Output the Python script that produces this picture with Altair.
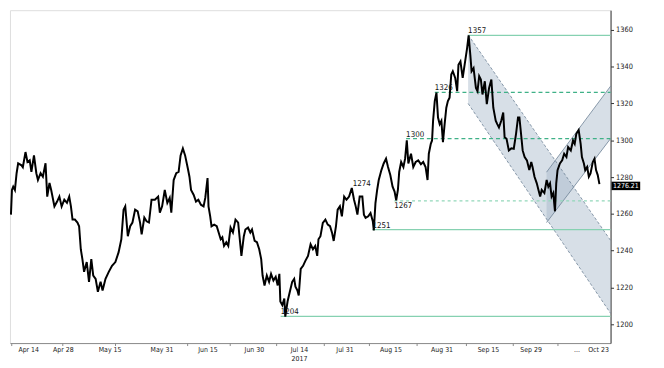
import json
import altair as alt
import pandas as pd

# ---- price series (trading-day index from Apr 14, price) ----
day = [-3.19, -2.95, -2.65, -2.25, -1.85, -1.48, -0.68, -0.37, 0.26, 0.73,
       1.26, 1.66, 2.27, 2.83, 3.21, 3.84, 4.38, 5.01, 5.41, 5.95,
       6.35, 7.12, 7.75, 8.29, 8.83, 9.46, 10.09, 10.63, 11.03, 11.41,
       11.97, 12.58, 12.97, 13.37, 13.75, 14.15, 14.78, 15.32, 15.86, 16.32,
       16.89, 17.42, 18.06, 18.53, 19.23, 20.00, 20.77, 21.57, 22.34, 22.98,
       23.51, 23.91, 24.52, 25.08, 25.62, 26.25, 26.86, 27.42, 27.80, 28.43,
       28.97, 29.53, 30.14, 30.94, 31.71, 32.11, 32.65, 33.28, 33.89, 34.45,
       34.83, 35.39, 36.00, 36.56, 37.03, 37.57, 38.10, 38.74, 39.13, 39.51,
       40.14, 40.68, 41.24, 41.85, 42.48, 42.88, 43.42, 43.65, 44.05, 44.36,
       44.99, 45.60, 46.54, 46.93, 47.33, 47.87, 48.34, 48.88, 49.44, 50.05,
       50.68, 51.22, 51.45, 52.02, 52.39, 53.02, 53.56, 53.96, 54.59, 55.13,
       55.67, 56.14, 56.47, 56.93, 57.47, 58.01, 58.48, 59.04, 59.58, 60.05,
       60.45, 60.68, 61.15, 61.62, 61.85, 62.39, 62.93, 63.49, 63.96, 64.26,
       64.73, 65.04, 65.51, 66.07, 66.61, 67.24, 67.85, 68.41, 68.95, 69.42,
       69.72, 70.19, 70.75, 71.36, 71.92, 72.46, 72.93, 73.33, 73.87, 74.27,
       74.80, 75.27, 75.81, 76.37, 76.98, 77.62, 78.15, 78.55, 78.95, 79.49,
       80.12, 80.49, 80.89, 81.52, 82.06, 82.60, 82.84, 83.23, 83.63, 84.01,
       84.64, 85.18, 85.74, 86.21, 86.75, 87.29, 87.76, 88.15, 88.55, 88.86,
       89.32, 89.86, 90.26, 90.66, 91.03, 91.66, 92.20, 92.77, 93.38, 94.01,
       94.55, 95.11, 95.58, 95.88, 96.35, 96.65, 96.89, 97.29, 97.69, 98.06,
       98.46, 98.86, 99.23, 99.63, 100.03, 100.40, 100.80, 101.20, 101.57, 102.14,
       102.60, 102.91, 103.38, 103.91, 104.48, 104.95, 105.32, 105.72, 106.02, 106.49,
       107.05, 107.43, 107.82, 108.22, 108.60, 109.16, 109.63, 110.17, 110.71, 111.17,
       111.74, 112.11, 112.51, 113.05, 113.52, 113.85, 114.31, 114.85, 115.44, 116.02,
       116.56, 117.03, 117.36, 117.83, 118.13, 118.60, 119.14, 119.70, 120.17, 120.47,
       120.94, 121.48, 121.88, 122.28, 122.65, 123.28, 123.82, 124.22, 124.62, 124.99,
       125.39, 125.79, 126.09, 126.40, 126.96, 127.50, 127.97, 128.51, 128.91, 129.54,
       130.07, 130.47, 130.85, 131.41, 131.88, 132.18, 132.65, 132.96, 133.42, 133.82,
       134.22, 134.76, 135.16, 135.53, 135.93, 136.33]

price = [1259.6, 1273.0, 1274.8, 1273.0, 1282.1, 1287.5, 1286.4, 1285.4, 1293.6, 1288.2,
         1289.1, 1282.8, 1291.8, 1282.1, 1278.4, 1282.1, 1280.2, 1287.5, 1269.4, 1276.8,
         1273.0, 1264.1, 1266.7, 1269.4, 1264.1, 1267.7, 1266.0, 1269.4, 1264.1, 1256.9,
         1256.9, 1255.3, 1253.3, 1240.8, 1235.4, 1228.5, 1233.8, 1223.1, 1235.4, 1226.5,
         1224.7, 1217.7, 1223.1, 1218.4, 1224.7, 1228.5, 1231.8, 1233.8, 1239.2, 1246.2,
         1262.3, 1264.1, 1247.9, 1253.3, 1255.3, 1262.3, 1261.4, 1255.3, 1248.9, 1258.0,
         1256.0, 1255.3, 1267.7, 1267.7, 1269.4, 1260.7, 1264.1, 1273.0, 1266.0, 1268.7,
         1260.7, 1278.4, 1282.1, 1282.8, 1291.8, 1295.6, 1291.8, 1284.8, 1280.2, 1273.0,
         1270.3, 1266.7, 1267.7, 1265.0, 1264.1, 1268.7, 1279.5, 1264.1, 1258.7, 1253.3,
         1254.2, 1253.3, 1246.2, 1247.3, 1242.6, 1244.6, 1242.6, 1252.6, 1249.9, 1256.9,
         1255.3, 1242.6, 1237.2, 1247.9, 1251.5, 1252.6, 1249.9, 1251.5, 1245.3, 1244.6,
         1240.8, 1235.4, 1226.5, 1221.1, 1226.5, 1223.1, 1227.4, 1223.8, 1225.8, 1221.1,
         1227.4, 1212.4, 1210.4, 1214.0, 1204.2, 1212.4, 1217.7, 1223.1, 1224.7, 1220.4,
         1218.4, 1215.7, 1230.1, 1231.8, 1234.5, 1237.2, 1243.5, 1240.8, 1242.6, 1237.2,
         1246.2, 1247.9, 1255.1, 1256.9, 1254.2, 1253.3, 1249.8, 1245.3, 1253.3, 1262.3,
         1264.1, 1258.7, 1269.4, 1267.7, 1269.4, 1274.1, 1267.7, 1264.1, 1259.6, 1269.4,
         1269.4, 1259.6, 1257.8, 1258.7, 1260.5, 1256.0, 1251.0, 1265.9, 1273.0, 1278.4,
         1283.8, 1287.4, 1290.0, 1285.5, 1281.1, 1274.8, 1272.1, 1267.4, 1273.0, 1282.8,
         1288.2, 1285.5, 1290.0, 1300.0, 1287.4, 1292.7, 1285.5, 1288.2, 1289.1, 1287.0,
         1288.2, 1285.5, 1278.4, 1292.7, 1298.1, 1299.9, 1310.6, 1321.3, 1325.9, 1312.4,
         1308.8, 1310.6, 1299.0, 1308.8, 1317.7, 1321.3, 1323.1, 1335.7, 1337.5, 1333.9,
         1326.7, 1341.0, 1342.8, 1333.9, 1342.8, 1350.0, 1357.0, 1346.4, 1337.5, 1339.2,
         1328.5, 1326.7, 1334.8, 1333.0, 1324.9, 1332.1, 1319.6, 1328.5, 1333.0, 1317.7,
         1310.6, 1308.8, 1307.0, 1310.6, 1315.1, 1301.6, 1300.8, 1294.5, 1295.6, 1295.4,
         1303.5, 1312.4, 1312.4, 1301.6, 1294.5, 1290.9, 1289.1, 1283.8, 1288.2, 1285.5,
         1280.2, 1276.6, 1273.0, 1269.4, 1273.0, 1271.3, 1278.4, 1274.8, 1276.6, 1269.4,
         1271.3, 1261.4, 1276.6, 1283.8, 1287.4, 1289.1, 1292.7, 1290.9, 1296.3, 1294.5,
         1299.9, 1298.1, 1303.5, 1305.6, 1298.1, 1290.9, 1287.4, 1283.8, 1285.5, 1280.2,
         1282.0, 1288.2, 1290.0, 1283.8, 1281.1, 1276.21]

# ---- axis ticks ----
tick_days = [0.9, 9.1, 20.2, 32.5, 43.4, 54.4, 65.1, 75.9, 86.8, 98.9, 109.9, 120.0, 130.9, 136.0]
tick_labels = ["Apr 14", "Apr 28", "May 15", "May 31", "Jun 15", "Jun 30", ["Jul 14", "2017"],
               "Jul 31", "Aug 15", "Aug 31", "Sep 15", "Sep 29", "...", "Oct 23"]
minor_tick_days = [-3.0, 9.1, 21.6, 38.7, 48.8, 59.8, 71.1, 81.8, 93.1, 104.8, 115.9, 126.5]
y_ticks = [1200, 1220, 1240, 1260, 1280, 1300, 1320, 1340, 1360]

# ---- horizontal levels ----
level_price = [1357.0, 1326.0, 1300.9, 1267.1, 1251.5, 1204.3]
level_start = [105.2, 97.3, 90.5, 87.7, 82.5, 60.75]
level_style = ["solid", "dashed", "dashed", "dotted", "solid", "solid"]
level_text = ["1357", "1326", "1300", "1267", "1251", "1204"]
level_label_pos = ["above", "above", "above", "below", "above", "above"]

note_day = [77.85]
note_price = [1274.0]
note_text = ["1274"]

# ---- channels ----
desc_day = [105.2, 138.97]
desc_upper = [1357.3, 1245.6]
desc_lower = [1320.0, 1206.0]
asc_day = [123.8, 138.97]
asc_upper = [1282.7, 1329.4]
asc_lower = [1255.3, 1300.9]

last_price = 1276.21

X_MIN, X_MAX = -3.42, 138.97
Y_MIN, Y_MAX = 1189.8, 1370.7
W, H = 608, 337

xs = alt.Scale(domain=[X_MIN, X_MAX], nice=False, zero=False)
ys = alt.Scale(domain=[Y_MIN, Y_MAX], nice=False, zero=False)

FONT = "DejaVu Sans Condensed"

series = pd.DataFrame({"day": day, "price": price})
levels = pd.DataFrame({"start": level_start, "end": [X_MAX] * len(level_price),
                       "price": level_price, "style": level_style,
                       "text": level_text, "pos": level_label_pos})
notes = pd.DataFrame({"start": note_day, "price": note_price, "text": note_text, "pos": ["above"]})
labels_all = pd.concat([levels[["start", "price", "text", "pos"]], notes], ignore_index=True)
desc = pd.DataFrame({"day": desc_day, "upper": desc_upper, "lower": desc_lower})
asc = pd.DataFrame({"day": asc_day, "upper": asc_upper, "lower": asc_lower})
minor = pd.DataFrame({"day": minor_tick_days})
last = pd.DataFrame({"price": [last_price], "lo": [last_price - 3.3], "hi": [last_price + 1.3],
                     "text": [f"{last_price:.2f}"]})

label_expr = f"{json.dumps(tick_labels)}[indexof({json.dumps(tick_days)}, datum.value)]"

x_axis = alt.Axis(values=tick_days, labelExpr=label_expr, grid=False, ticks=False,
                  domainColor="#8a8a8a", labelFont=FONT, labelFontSize=7, labelColor="#222",
                  labelPadding=3, title=None, labelFlush=False)
y_axis = alt.Axis(orient="right", values=y_ticks, format="d", grid=False, tickSize=3,
                  tickColor="#333", domainColor="#333", labelFont=FONT, labelFontSize=7.5,
                  labelColor="#222", labelPadding=2, title=None)

base_x = alt.X("day:Q", scale=xs, axis=x_axis)

fill_col = "#9fb2c5"
edge_col = "#6d8296"

desc_area = alt.Chart(desc).mark_area(color=fill_col, opacity=0.42).encode(
    x=base_x, y=alt.Y("upper:Q", scale=ys, axis=y_axis), y2="lower:Q")
desc_up = alt.Chart(desc).mark_line(color=edge_col, strokeWidth=0.8, strokeDash=[3, 2]).encode(
    x="day:Q", y="upper:Q")
desc_lo = alt.Chart(desc).mark_line(color=edge_col, strokeWidth=0.8, strokeDash=[3, 2]).encode(
    x="day:Q", y="lower:Q")
asc_area = alt.Chart(asc).mark_area(color=fill_col, opacity=0.42).encode(
    x="day:Q", y="upper:Q", y2="lower:Q")
asc_up = alt.Chart(asc).mark_line(color=edge_col, strokeWidth=0.8).encode(x="day:Q", y="upper:Q")
asc_lo = alt.Chart(asc).mark_line(color=edge_col, strokeWidth=0.8).encode(x="day:Q", y="lower:Q")

level_rules = alt.Chart(levels).mark_rule(strokeWidth=1.2).encode(
    x="start:Q", x2="end:Q", y="price:Q",
    color=alt.Color("style:N", legend=None,
                    scale=alt.Scale(domain=["solid", "dashed", "dotted"],
                                    range=["#86d1b1", "#3fb187", "#93d8ba"])),
    strokeDash=alt.StrokeDash("style:N", legend=None,
                              scale=alt.Scale(domain=["solid", "dashed", "dotted"],
                                              range=[[1, 0], [4, 3], [3, 3]])),
)

line = alt.Chart(series).mark_line(color="#000", strokeWidth=2.0, strokeJoin="miter").encode(
    x="day:Q", y="price:Q")

lab_above = alt.Chart(labels_all).transform_filter("datum.pos == 'above'").mark_text(
    align="left", baseline="bottom", font=FONT, fontSize=8, color="#111", dy=0).encode(
    x="start:Q", y="price:Q", text="text:N")
lab_below = alt.Chart(labels_all).transform_filter("datum.pos == 'below'").mark_text(
    align="left", baseline="top", font=FONT, fontSize=8, color="#111", dy=1).encode(
    x="start:Q", y="price:Q", text="text:N")

minor_ticks = alt.Chart(minor).mark_rule(color="#8a8a8a", strokeWidth=1).encode(
    x="day:Q", y=alt.value(H), y2=alt.value(H + 3))

tag_box = alt.Chart(last).mark_rect(color="#000").encode(
    x=alt.value(W + 1), x2=alt.value(W + 30), y="hi:Q", y2="lo:Q")
tag_text = alt.Chart(last).mark_text(color="#fff", font=FONT, fontSize=7, align="center",
                                     baseline="middle", dy=1.8).encode(
    x=alt.value(W + 15.5), y="price:Q", text="text:N")

chart = alt.layer(
    desc_area, asc_area, desc_up, desc_lo, asc_up, asc_lo,
    level_rules, line, lab_above, lab_below, minor_ticks, tag_box, tag_text
).properties(
    width=W, height=H,
    autosize=alt.AutoSizeParams(type="none"),
    padding={"left": 2, "top": 0, "right": 46, "bottom": 22},
).configure_view(stroke=None).configure(background="white")

chart.save("out.html", embed_options={"renderer": "svg", "actions": False})
